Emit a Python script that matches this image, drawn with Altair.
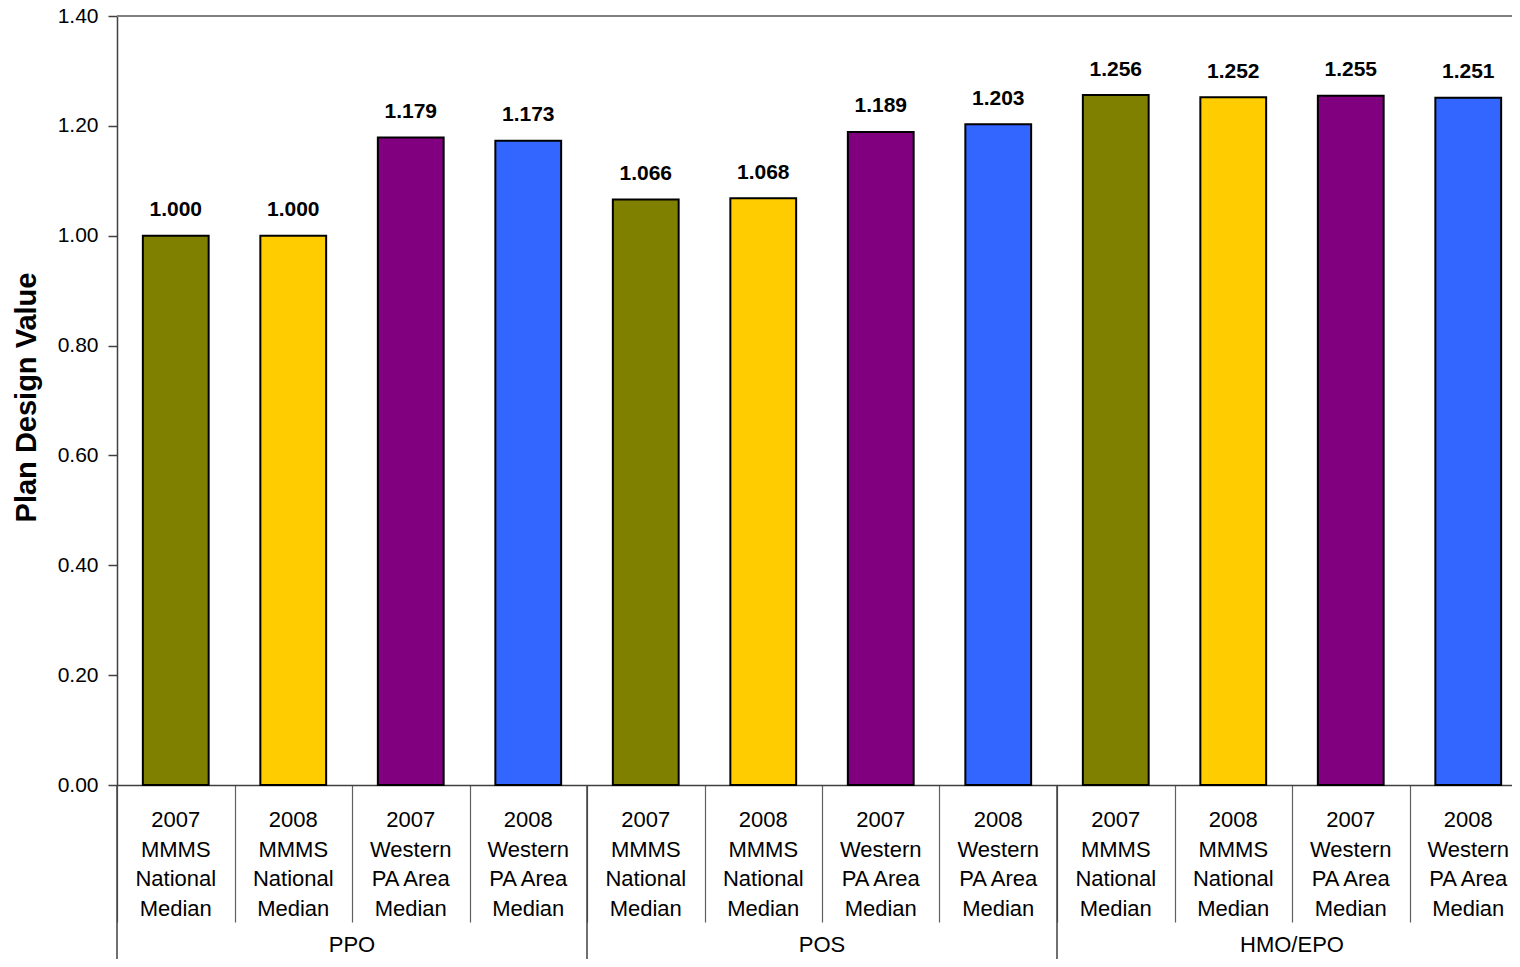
import altair as alt
import pandas as pd

groups = ["PPO", "POS", "HMO/EPO"]
series = [
    "2007 MMMS National Median",
    "2008 MMMS National Median",
    "2007 Western PA Area Median",
    "2008 Western PA Area Median",
]
label_lines = [
    ["2007", "MMMS", "National", "Median"],
    ["2008", "MMMS", "National", "Median"],
    ["2007", "Western", "PA Area", "Median"],
    ["2008", "Western", "PA Area", "Median"],
]
values = [1.000, 1.000, 1.179, 1.173,
          1.066, 1.068, 1.189, 1.203,
          1.256, 1.252, 1.255, 1.251]
colors = ["#808000", "#FFCC00", "#800080", "#3366FF"]
y_ticks = [0.0, 0.2, 0.4, 0.6, 0.8, 1.0, 1.2, 1.4]

rows = []
for g, grp in enumerate(groups):
    for s, ser in enumerate(series):
        i = g * 4 + s
        rows.append(dict(idx=i, group=grp, series=ser,
                         label="\n".join(label_lines[s]), value=values[i]))
df = pd.DataFrame(rows)
gdf = pd.DataFrame({"group": groups, "gidx": list(range(len(groups)))})

PAD_L, PAD_T, PAD_B = 109, 8, 174
W, H = 1395, 769
STEP = 117.5
FONT = "Liberation Sans"
xscale = alt.Scale(domain=[0, W / STEP], nice=False, zero=False, padding=0)
yscale = alt.Scale(domain=[0, 1.4], nice=False, padding=0)

base = alt.Chart(df).transform_calculate(
    x0="datum.idx + 0.22", x1="datum.idx + 0.78", xc="datum.idx + 0.5"
)

bars = base.mark_bar(stroke="black", strokeWidth=2, orient="vertical").encode(
    x=alt.X("x0:Q", scale=xscale,
            axis=alt.Axis(values=list(range(12)), tickSize=137, labels=False,
                          grid=False, domain=True, domainColor="#404040",
                          domainWidth=1.5, tickColor="#606060", tickWidth=1.2,
                          title=None)),
    x2="x1:Q",
    y=alt.Y("value:Q", scale=yscale,
            axis=alt.Axis(values=y_ticks, format=".2f", grid=False,
                          labelFontSize=21, labelPadding=10, labelColor="black",
                          labelFont=FONT, tickSize=9, tickColor="#404040",
                          tickWidth=1.5, domainColor="#404040", domainWidth=1.5,
                          title="Plan Design Value", titleFontSize=29,
                          titleFontWeight="bold", titleFont=FONT,
                          titleColor="black", titleX=-91, titleY=381,
                          titleAngle=270, titleAlign="center",
                          titleBaseline="middle")),
    y2=alt.datum(0),
    color=alt.Color("series:N", scale=alt.Scale(domain=series, range=colors),
                    legend=None),
)

value_labels = base.mark_text(dy=-19.5, baseline="alphabetic", fontWeight="bold",
                              fontSize=21, font=FONT, color="black").encode(
    x=alt.X("xc:Q", scale=xscale),
    y=alt.Y("value:Q", scale=yscale),
    text=alt.Text("value:Q", format=".3f"),
)

cat_labels = base.mark_text(lineBreak="\n", lineHeight=29.5, baseline="alphabetic",
                            fontSize=22, font=FONT, color="black").encode(
    x=alt.X("xc:Q", scale=xscale),
    y=alt.value(811),
    text="label:N",
)

gbase = alt.Chart(gdf).transform_calculate(
    xc="datum.gidx * 4 + 2", xb="datum.gidx * 4"
)

group_labels = gbase.mark_text(baseline="alphabetic", fontSize=22, font=FONT,
                               color="black").encode(
    x=alt.X("xc:Q", scale=xscale),
    y=alt.value(936),
    text="group:N",
)

group_seps = gbase.mark_rule(color="#404040", strokeWidth=1.5).encode(
    x=alt.X("xb:Q", scale=xscale),
    y=alt.value(H),
    y2=alt.value(H + PAD_B),
)

top_frame = alt.Chart(pd.DataFrame({"v": [1.4]})).mark_rule(
    color="#808080", strokeWidth=2).encode(
    x=alt.value(0), x2=alt.value(W), y=alt.value(0)
)

chart = alt.layer(bars, value_labels, cat_labels, group_labels, group_seps,
                  top_frame).properties(
    width=W, height=H,
    autosize=alt.AutoSizeParams(type="none"),
    padding={"left": PAD_L, "top": PAD_T, "right": 0, "bottom": PAD_B},
).configure_view(stroke=None).configure(font=FONT)

chart.save("out.html", embed_options={"renderer": "svg", "actions": False})
